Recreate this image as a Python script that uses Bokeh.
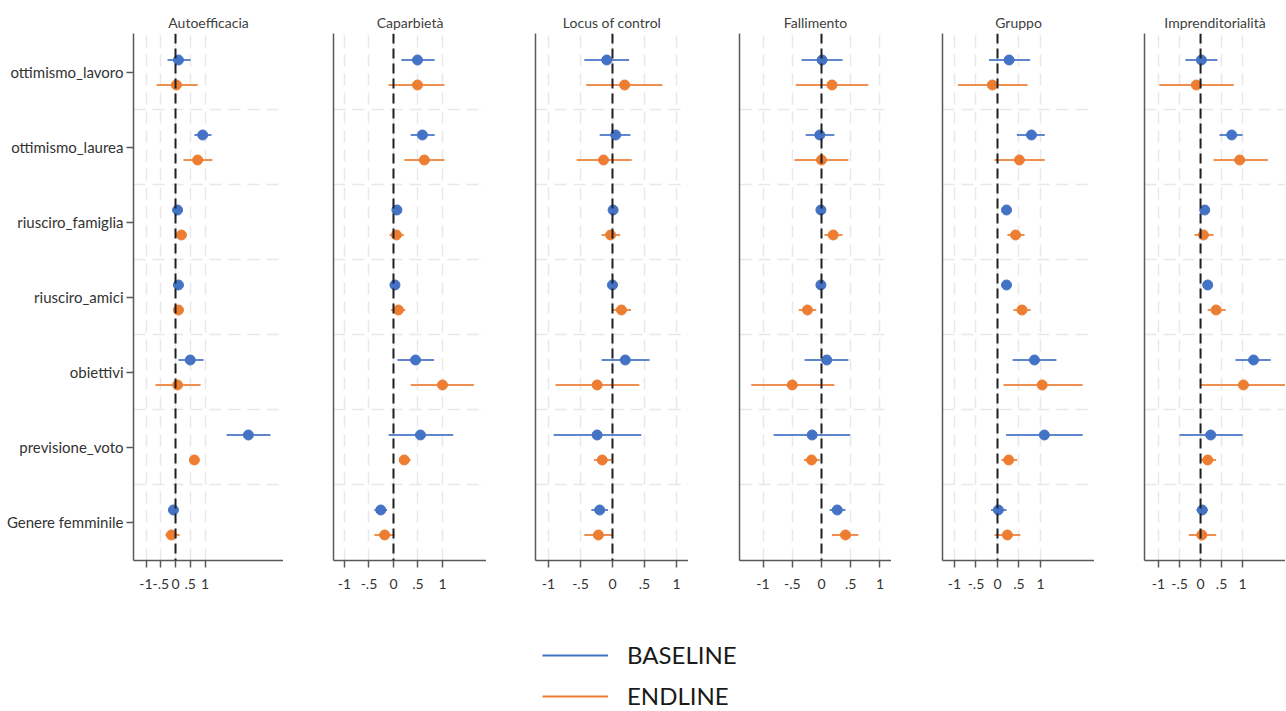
from bokeh.plotting import figure
from bokeh.layouts import row, column
from bokeh.models import ColumnDataSource, FixedTicker, Range1d, Span, Legend, LegendItem
from bokeh.embed import file_html
from bokeh.resources import INLINE

# ---------------- data ----------------
categories = ["ottimismo_lavoro", "ottimismo_laurea", "riusciro_famiglia", "riusciro_amici",
              "obiettivi", "previsione_voto", "Genere femminile"]
panel_titles = ["Autoefficacia", "Caparbietà", "Locus of control", "Fallimento", "Gruppo", "Imprenditorialità"]
series_labels = ["BASELINE", "ENDLINE"]
x_ticks = [-1, -0.5, 0, 0.5, 1]
x_tick_labels = ["-1", "-.5", "0", ".5", "1"]

# Autoefficacia
autoefficacia_base = [0.10, 0.92, 0.07, 0.10, 0.50, 2.47, -0.07]
autoefficacia_base_lo = [-0.27, 0.64, 0.03, 0.06, 0.10, 1.73, -0.11]
autoefficacia_base_hi = [0.51, 1.22, 0.11, 0.14, 0.95, 3.22, -0.03]
autoefficacia_end = [0.03, 0.75, 0.20, 0.10, 0.07, 0.64, -0.14]
autoefficacia_end_lo = [-0.64, 0.27, 0.10, 0.03, -0.68, 0.59, -0.34]
autoefficacia_end_hi = [0.75, 1.25, 0.32, 0.17, 0.85, 0.69, 0.14]

# Caparbietà
caparbieta_base = [0.49, 0.59, 0.07, 0.03, 0.45, 0.55, -0.26]
caparbieta_base_lo = [0.16, 0.35, 0.04, 0.01, 0.08, -0.10, -0.39]
caparbieta_base_hi = [0.84, 0.84, 0.10, 0.05, 0.83, 1.22, -0.13]
caparbieta_end = [0.49, 0.63, 0.06, 0.10, 1.00, 0.22, -0.18]
caparbieta_end_lo = [-0.10, 0.22, -0.08, -0.05, 0.35, 0.11, -0.39]
caparbieta_end_hi = [1.04, 1.04, 0.21, 0.24, 1.64, 0.35, 0.02]

# Locus of control
locus_base = [-0.09, 0.05, 0.01, 0.00, 0.20, -0.24, -0.20]
locus_base_lo = [-0.44, -0.20, -0.01, -0.02, -0.17, -0.92, -0.33]
locus_base_hi = [0.26, 0.28, 0.03, 0.02, 0.58, 0.45, -0.07]
locus_end = [0.19, -0.14, -0.03, 0.14, -0.24, -0.16, -0.22]
locus_end_lo = [-0.41, -0.56, -0.17, -0.01, -0.89, -0.29, -0.44]
locus_end_hi = [0.78, 0.30, 0.12, 0.29, 0.42, -0.02, 0.01]

# Fallimento
fallimento_base = [0.01, -0.03, -0.01, -0.01, 0.09, -0.16, 0.27]
fallimento_base_lo = [-0.34, -0.27, -0.03, -0.03, -0.29, -0.82, 0.14]
fallimento_base_hi = [0.36, 0.22, 0.01, 0.01, 0.46, 0.49, 0.41]
fallimento_end = [0.18, 0.00, 0.20, -0.24, -0.50, -0.17, 0.41]
fallimento_end_lo = [-0.44, -0.46, 0.05, -0.39, -1.20, -0.30, 0.18]
fallimento_end_hi = [0.80, 0.46, 0.36, -0.09, 0.22, -0.03, 0.63]

# Gruppo
gruppo_base = [0.27, 0.79, 0.21, 0.21, 0.86, 1.09, 0.02]
gruppo_base_lo = [-0.20, 0.45, 0.18, 0.18, 0.35, 0.20, -0.15]
gruppo_base_hi = [0.76, 1.10, 0.24, 0.24, 1.37, 1.98, 0.21]
gruppo_end = [-0.12, 0.51, 0.42, 0.57, 1.04, 0.26, 0.23]
gruppo_end_lo = [-0.92, -0.07, 0.23, 0.37, 0.14, 0.09, -0.07]
gruppo_end_hi = [0.70, 1.10, 0.63, 0.77, 1.98, 0.46, 0.53]

# Imprenditorialità
impr_base = [0.02, 0.74, 0.10, 0.17, 1.26, 0.24, 0.04]
impr_base_lo = [-0.36, 0.45, 0.07, 0.14, 0.83, -0.50, -0.10]
impr_base_hi = [0.40, 1.00, 0.13, 0.20, 1.67, 1.00, 0.17]
impr_end = [-0.10, 0.93, 0.07, 0.37, 1.02, 0.17, 0.03]
impr_end_lo = [-0.98, 0.31, -0.14, 0.17, 0.00, 0.00, -0.28]
impr_end_hi = [0.79, 1.60, 0.31, 0.60, 2.10, 0.37, 0.37]

panel_data = [
    (autoefficacia_base, autoefficacia_base_lo, autoefficacia_base_hi,
     autoefficacia_end, autoefficacia_end_lo, autoefficacia_end_hi),
    (caparbieta_base, caparbieta_base_lo, caparbieta_base_hi,
     caparbieta_end, caparbieta_end_lo, caparbieta_end_hi),
    (locus_base, locus_base_lo, locus_base_hi, locus_end, locus_end_lo, locus_end_hi),
    (fallimento_base, fallimento_base_lo, fallimento_base_hi,
     fallimento_end, fallimento_end_lo, fallimento_end_hi),
    (gruppo_base, gruppo_base_lo, gruppo_base_hi, gruppo_end, gruppo_end_lo, gruppo_end_hi),
    (impr_base, impr_base_lo, impr_base_hi, impr_end, impr_end_lo, impr_end_hi),
]

# ---------------- style / layout ----------------
FONT = "Lato"
BLUE = "#4472C4"
ORANGE = "#ED7D31"
AXIS_COLOR = "#595959"
GRID_COLOR = "#e8e8e8"
TEXT_COLOR = "#333333"

BORDER_LEFT = [133, 50, 49, 51, 51, 50]
FRAME_W = [150, 153, 153, 152, 152, 141]
X_LIMITS = [(-1.424, 3.66), (-1.224, 1.898), (-1.203, 1.188),
            (-1.402, 1.197), (-1.279, 2.256), (-1.333, 2.02)]
TOP, FRAME_H, BOTTOM = 33, 527, 36
OFFSET = 1.0 / 6.0

n = len(categories)
cat_pos = [n - i for i in range(n)]
boundaries = [k + 0.5 for k in range(1, n)]

panels = []
for idx, title in enumerate(panel_titles):
    b, blo, bhi, e, elo, ehi = panel_data[idx]
    p = figure(width=BORDER_LEFT[idx] + FRAME_W[idx], height=TOP + FRAME_H + BOTTOM,
               x_range=Range1d(*X_LIMITS[idx]), y_range=Range1d(0.493, 7.52),
               output_backend="svg", toolbar_location=None,
               min_border_left=BORDER_LEFT[idx], min_border_right=0,
               min_border_top=TOP, min_border_bottom=BOTTOM, title=title)
    p.outline_line_color = None
    p.background_fill_color = "white"
    p.border_fill_color = "white"

    p.title.align = "center"
    p.title.text_font = FONT
    p.title.text_font_size = "14px"
    p.title.text_font_style = "normal"
    p.title.text_color = "#404040"
    p.title.standoff = 6

    # x axis
    xa = p.xaxis[0]
    xa.ticker = FixedTicker(ticks=x_ticks)
    xa.major_label_overrides = {float(t): lab for t, lab in zip(x_ticks, x_tick_labels)}
    xa.axis_line_color = AXIS_COLOR
    xa.axis_line_width = 1.5
    xa.major_tick_line_color = AXIS_COLOR
    xa.major_tick_line_width = 1.5
    xa.major_tick_out = 7
    xa.major_tick_in = 0
    xa.minor_tick_line_color = None
    xa.major_label_standoff = 11
    xa.major_label_text_font = FONT
    xa.major_label_text_font_size = "14px"
    xa.major_label_text_color = TEXT_COLOR

    # y axis
    ya = p.yaxis[0]
    ya.axis_line_color = AXIS_COLOR
    ya.axis_line_width = 1.5
    ya.minor_tick_line_color = None
    if idx == 0:
        ya.ticker = FixedTicker(ticks=cat_pos)
        ya.major_label_overrides = {c: lab for c, lab in zip(cat_pos, categories)}
        ya.major_tick_line_color = AXIS_COLOR
        ya.major_tick_line_width = 1.5
        ya.major_tick_out = 7
        ya.major_tick_in = 0
        ya.major_label_standoff = 3
        ya.major_label_text_font = FONT
        ya.major_label_text_font_size = "15px"
        ya.major_label_text_color = TEXT_COLOR
    else:
        ya.ticker = FixedTicker(ticks=[])
        ya.major_tick_line_color = None

    # grids
    p.xgrid.ticker = FixedTicker(ticks=x_ticks)
    p.ygrid.ticker = FixedTicker(ticks=boundaries)
    for g in (p.xgrid[0], p.ygrid[0]):
        g.grid_line_color = GRID_COLOR
        g.grid_line_width = 1.5
        g.grid_line_dash = "12 7"

    # data
    for est, lo, hi, off, col in ((b, blo, bhi, OFFSET, BLUE), (e, elo, ehi, -OFFSET, ORANGE)):
        src = ColumnDataSource(dict(y=[c + off for c in cat_pos], est=est, lo=lo, hi=hi))
        p.segment(x0="lo", x1="hi", y0="y", y1="y", source=src,
                  line_color=col, line_width=2, line_alpha=0.85)
        p.scatter(x="est", y="y", source=src, size=10, fill_color=col, line_color=col)

    p.add_layout(Span(location=0, dimension="height", line_color="#1f1f1f",
                      line_width=2, line_dash="10 5"))
    panels.append(p)

# legend figure (sample lines kept outside the visible range)
total_w = sum(BORDER_LEFT) + sum(FRAME_W)
lf = figure(width=total_w, height=114,
            x_range=Range1d(0, 1), y_range=Range1d(0, 1),
            x_axis_type=None, y_axis_type=None, toolbar_location=None,
            output_backend="svg", min_border=0)
lf.outline_line_color = None
r_base = lf.line(x=[5, 6], y=[5, 6], line_color=BLUE, line_width=2)
r_end = lf.line(x=[5, 6], y=[5, 6], line_color=ORANGE, line_width=2)
legend = Legend(items=[LegendItem(label=series_labels[0], renderers=[r_base]),
                       LegendItem(label=series_labels[1], renderers=[r_end])],
                location=(542, 0), orientation="vertical",
                glyph_width=66, glyph_height=22, label_height=22,
                label_standoff=19, spacing=12, padding=0, margin=0,
                border_line_color=None, background_fill_alpha=0,
                label_text_font=FONT, label_text_font_size="24px",
                label_text_color="#1a1a1a")
lf.add_layout(legend, "center")

layout = column(row(*panels), lf)
open("out.html", "w").write(file_html(layout, INLINE))
